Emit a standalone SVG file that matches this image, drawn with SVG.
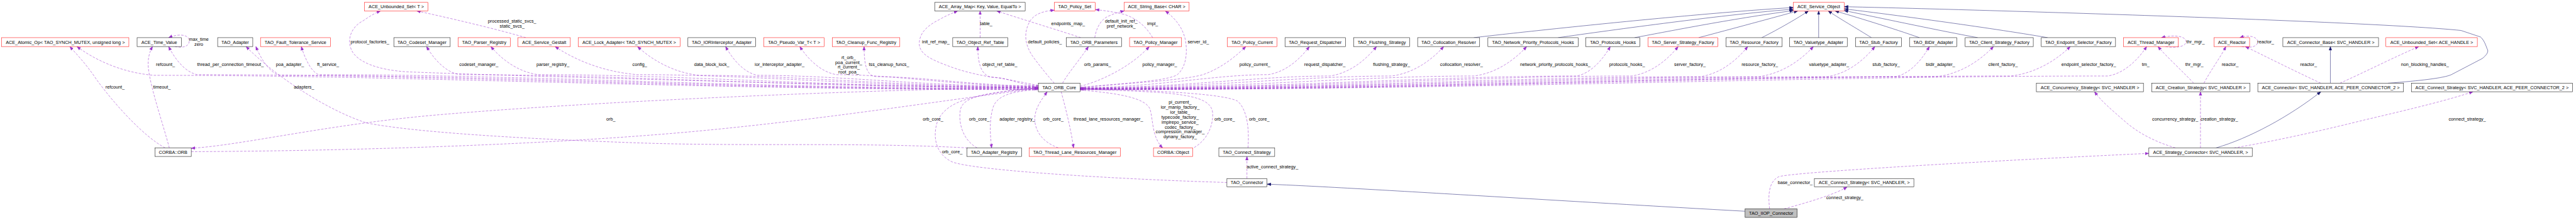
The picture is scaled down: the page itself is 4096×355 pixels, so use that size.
<svg xmlns="http://www.w3.org/2000/svg" width="4096" height="355" viewBox="0 0 4096 355">
<style>
text{font-family:"Liberation Sans",Arial,sans-serif;font-size:13.3px;fill:#000}
.n rect{fill:#fff;stroke:#000;stroke-width:1}
.n.r rect{stroke:#f00}
.n.g rect{fill:#bfbfbf}
.n text{text-anchor:middle}
.u{fill:none;stroke:#9a32cd;stroke-width:1;stroke-dasharray:7,4;marker-end:url(#ap)}
.i{fill:none;stroke:#191970;stroke-width:1;marker-end:url(#an)}
.lm{text-anchor:middle}
</style>
<defs>
<marker id="ap" markerUnits="userSpaceOnUse" markerWidth="12" markerHeight="10" viewBox="0 0 12 10" refX="11" refY="5" orient="auto"><path d="M0,1 L11,5 L0,9 z" fill="#9a32cd" stroke="#9a32cd" stroke-dasharray="none"/></marker>
<marker id="an" markerUnits="userSpaceOnUse" markerWidth="12" markerHeight="10" viewBox="0 0 12 10" refX="11" refY="5" orient="auto"><path d="M0,1 L11,5 L0,9 z" fill="#191970" stroke="#191970"/></marker>
</defs>
<rect x="0" y="0" width="4096" height="355" fill="#fff"/>
<g transform="scale(0.545)">
<g id="connectors">
<path class="u" d="M3029,262 C1997,262 1223,220 449,220 C348,211.6 269.4,169.6 224.5,136"/>
<path class="u" d="M3029,261 C2047,261 1311,218 575,218 C537.7,209.8 508.6,168.8 492,136"/>
<path class="u" d="M3029,260 C2144,260 1480,220 816,220 C784.7,211.6 760.4,169.6 746.5,136"/>
<path class="u" d="M3029,259 C2189,259 1560,218 930,218 C907,209.8 889.2,168.8 879,136"/>
<path class="u" d="M3029,258 C2300,245 1500,222 1191,210 C1100,205 1040,180 1025,145 C1010,110 1030,75 1059,61 C1075,50 1090,40 1110,32"/>
<path class="u" d="M3029,257 C2353,257 1847,218 1340,218 C1297,209.8 1263.6,168.8 1244.5,136"/>
<path class="u" d="M3029,256 C2445,256 2008,218 1570,218 C1508,209.8 1459.6,168.8 1432,136"/>
<path class="u" d="M3029,255 C2561,255 2211,218 1860,218 C1752,209.8 1667.7,168.8 1619.6,136"/>
<path class="u" d="M3029,254 C2633,254 2337,220 2040,220 C1959,211.6 1896,169.6 1860,136"/>
<path class="u" d="M3029,253 C2701,253 2456,220 2210,220 C2168,211.6 2135.6,169.6 2117,136"/>
<path class="u" d="M3029,252 C2793,252 2617,218 2440,218 C2392,209.8 2354.8,168.8 2333.5,136"/>
<path class="u" d="M3029,251 C2841,251 2701,224 2560,224 C2532,224 2521,200 2521,136"/>
<path class="u" d="M3029,250 C2977,250 2939,226 2900,226 C2870,226 2852.7,200 2852.7,136"/>
<path class="u" d="M3029,249 C2990,243 2950,232 2888,224.5 C2840,216 2800,206 2760,190 C2720,175 2680,158 2682,125 C2684,95 2705,75 2741,57 C2760,46 2775,40 2794,32"/>
<path class="u" d="M3076,243 C3060,225 3035,195 3012,163 C2990,130 2985,95 3006,60 C3020,40 3045,32 3076,30"/>
<path class="u" d="M3100,243 C3115,215 3150,175 3175.5,136"/>
<path class="u" d="M3151,252 C3210,238 3300,195 3353,136"/>
<path class="u" d="M3151,255 C3300,242 3410,235 3435,218 C3462,195 3465,150 3458,115 C3450,80 3430,55 3400,32"/>
<path class="u" d="M3151,256 C3300,242 3450,235 3510,218 C3560,200 3600,170 3634.7,136"/>
<path class="u" d="M3151,256 C3370.6,256 3535.3,218 3700,218 C3754,209.8 3796,168.8 3820,136"/>
<path class="u" d="M3151,257 C3442.6,257 3661.3,222 3880,222 C3941.2,213.4 3988.8,170.4 4016,136"/>
<path class="u" d="M3151,257 C3514.6,257 3787.3,222 4060,222 C4128.4,213.4 4181.6,170.4 4212,136"/>
<path class="u" d="M3151,258 C3610.6,258 3955.3,222 4300,222 C4369.3,213.4 4423.2,170.4 4454,136"/>
<path class="u" d="M3151,258 C3730.6,258 4165.3,222 4600,222 C4644.1,213.4 4678.4,170.4 4698,136"/>
<path class="u" d="M3151,259 C3794.6,259 4277.3,222 4760,222 C4821.2,213.4 4868.8,170.4 4896,136"/>
<path class="u" d="M3151,259 C3874.6,259 4417.3,224 4960,224 C5022.6,215.2 5071.2,171.2 5099,136"/>
<path class="u" d="M3151,260 C3942.6,260 4536.3,224 5130,224 C5202.3,215.2 5258.5,171.2 5290.6,136"/>
<path class="u" d="M3151,260 C4022.6,260 4676.3,224 5330,224 C5393,215.2 5442,171.2 5470,136"/>
<path class="u" d="M3151,261 C4102.6,261 4816.3,224 5530,224 C5574.6,215.2 5609.2,171.2 5629,136"/>
<path class="u" d="M3151,261 C4150.6,261 4900.3,224 5650,224 C5724.7,215.2 5782.8,171.2 5816,136"/>
<path class="u" d="M3151,262 C4237,262 5051.5,222 5866,222 C5944.3,213.4 6005.2,170.4 6040,136"/>
<path class="u" d="M3151,262 C4350.6,262 5250.3,222 6150,222 C6200.9,213.4 6240.4,170.4 6263,136"/>
<path class="u" d="M3029,255 C2500,262 1700,298 1260,337 C950,365 700,425 558,433"/>
<path class="u" d="M558,443 C1000,441 1500,425 1880,396 C2300,365 2700,300 3029,258"/>
<path class="u" d="M482,432 C420,400 330,300 280,230 C250,185 220,155 204,136"/>
<path class="u" d="M494,432 C475,360 440,260 433,200 C430,170 437,150 445,136"/>
<path class="u" d="M2823,432 C2500,415 2200,428 1880,418 C1500,405 1200,385 1069,359 C950,320 800,220 718,136"/>
<path class="u" d="M2851,432 C2810,410 2795,360 2802,320 C2810,285 2860,272 3029,256"/>
<path class="u" d="M3029,262 C2950,266 2905,280 2896,318 C2885,360 2890,400 2893,432"/>
<path class="u" d="M3088,432 C3040,415 3018,380 3019,345 C3020,315 3040,290 3055,268"/>
<path class="u" d="M3096,268 C3110,320 3125,380 3132,432"/>
<path class="u" d="M3484,431 C3520,410 3540,370 3538,330 C3535,290 3480,278 3380,270 C3300,265 3200,262 3151,260"/>
<path class="u" d="M3151,263 C3260,272 3340,285 3355,318 C3365,350 3360,400 3392,432"/>
<path class="u" d="M3641,432 C3645,380 3640,320 3610,295 C3570,275 3400,265 3151,258"/>
<path class="u" d="M3580,533 C3300,525 2850,500 2778,473 C2730,450 2720,400 2735,355 C2755,310 2800,285 2929,268 C2970,262 3000,259 3029,258"/>
<path class="u" d="M3638,521.5 L3638,457"/>
<path class="u" d="M5163,610 C5158,570 5160,530 5190,516 C5230,503 5800,470 6269,448"/>
<path class="u" d="M5205,610 C5280,590 5360,565 5389,546"/>
<path class="u" d="M6347,432 C6290,415 6240,390 6200,355 C6160,320 6130,295 6111,268"/>
<path class="u" d="M6420,432 L6420,268"/>
<path class="u" d="M6518,432 C6650,410 6800,375 6900,350 C7050,315 7150,290 7215,268"/>
<path class="u" d="M6400,243 C6375,215 6320,165 6296,136"/>
<path class="u" d="M6430,243 C6450,205 6480,165 6494,136"/>
<path class="u" d="M6771,243 C6690,205 6610,165 6551,136"/>
<path class="u" d="M6827,243 C6900,210 6990,165 7057,136"/>
<path class="u" d="M2859.6,110 L2859.6,32"/>
<path class="u" d="M3153,110 C3100,92 3000,62 2908,32"/>
<path class="u" d="M3194,110 C3198,85 3210,55 3239,45 C3255,38 3265,35 3280,32"/>
<path class="u" d="M3363,110 C3345,80 3320,55 3280,42 C3250,35 3225,31 3196,28"/>
<path class="u" d="M1534,110 C1450,85 1300,50 1216,32"/>
<path class="u" d="M510,136 C540,142 553,132 552,118 C550,100 520,98 492,110"/>
<path class="u" d="M6318,136 C6350,142 6378,135 6378,122 C6378,106 6345,100 6306,110"/>
<path class="u" d="M6540,136 C6570,142 6587,134 6587,122 C6587,108 6560,100 6535,110"/>
<path class="i" d="M4300,110 C4340,105 4900,42 5232,22"/>
<path class="i" d="M4546,110 C4700,88 5050,40 5232,27"/>
<path class="i" d="M4769,110 C4850,95 5050,55 5232,31"/>
<path class="i" d="M4956,110 C5050,85 5180,50 5245,32"/>
<path class="i" d="M5140,110 C5190,85 5250,50 5276,32"/>
<path class="i" d="M5306,110 L5306,32"/>
<path class="i" d="M5460,110 C5420,85 5360,50 5334,32"/>
<path class="i" d="M5600,110 C5530,85 5400,45 5354,32"/>
<path class="i" d="M5770,110 C5650,88 5450,45 5381,31"/>
<path class="i" d="M5974,110 C5800,80 5500,40 5381,26"/>
<path class="i" d="M6967,243 C7060,236 7130,228 7152,218 L7242,171 C7256,160 7262,150 7256,142 C7250,125 7245,115 7237,108 L7180,89 C6900,60 5600,24 5381,19.6"/>
<path class="i" d="M6799,243 L6799,136"/>
<path class="i" d="M6465,432 C6560,405 6680,340 6771,268"/>
<path class="i" d="M5091,617 C4600,590 3900,545 3697,538"/>
<text x="455" y="192.5">refcount_</text>
<text x="575" y="192.5">thread_per_connection_timeout_</text>
<text x="805" y="192.5">poa_adapter_</text>
<text x="925" y="192.5">ft_service_</text>
<text x="1340" y="192.5">codeset_manager_</text>
<text x="1565" y="192.5">parser_registry_</text>
<text x="1845" y="192.5">config_</text>
<text x="2025" y="192.5">data_block_lock_</text>
<text x="2202" y="192.5">ior_interceptor_adapter_</text>
<text x="2535" y="192.5">tss_cleanup_funcs_</text>
<text x="2866" y="192.5">object_ref_table_</text>
<text x="3163" y="192.5">orb_params_</text>
<text x="3333" y="192.5">policy_manager_</text>
<text x="3616" y="192.5">policy_current_</text>
<text x="3805" y="192.5">request_dispatcher_</text>
<text x="4006" y="192.5">flushing_strategy_</text>
<text x="4201.6" y="192.5">collocation_resolver_</text>
<text x="4435" y="192.5">network_priority_protocols_hooks_</text>
<text x="4695" y="192.5">protocols_hooks_</text>
<text x="4884.5" y="192.5">server_factory_</text>
<text x="5081" y="192.5">resource_factory_</text>
<text x="5278" y="192.5">valuetype_adapter_</text>
<text x="5463" y="192.5">stub_factory_</text>
<text x="5619" y="192.5">bidir_adapter_</text>
<text x="5801" y="192.5">client_factory_</text>
<text x="6014" y="192.5">endpoint_selector_factory_</text>
<text x="6249" y="192.5">tm_</text>
<text x="6375.5" y="192.5">thr_mgr_</text>
<text x="6482" y="192.5">reactor_</text>
<text x="6711" y="192.5">reactor_</text>
<text x="7005" y="192.5">non_blocking_handles_</text>
<text class="lm" x="2476"><tspan x="2476" y="172.3">rt_orb_</tspan><tspan x="2476" y="186.9">poa_current_</tspan><tspan x="2476" y="200.8">rt_current_</tspan><tspan x="2476" y="215.5">root_poa_</tspan></text>
<text x="1023" y="126">protocol_factories_</text>
<text x="2690" y="126">init_ref_map_</text>
<text x="2999" y="126">default_policies_</text>
<text x="3465" y="126">server_id_</text>
<text x="6379" y="126">thr_mgr_</text>
<text x="6586" y="126">reactor_</text>
<text x="2859" y="74">table_</text>
<text x="3067" y="74">endpoints_map_</text>
<text x="3347" y="74">impl_</text>
<text class="lm" x="1494"><tspan x="1494" y="66.9">processed_static_svcs_</tspan><tspan x="1494" y="81.5">static_svcs_</tspan></text>
<text class="lm" x="3271"><tspan x="3271" y="66.9">default_init_ref_</tspan><tspan x="3271" y="81.5">pref_network_</tspan></text>
<text class="lm" x="580"><tspan x="580" y="120">max_time</tspan><tspan x="580" y="134.5">zero</tspan></text>
<text x="308" y="258.5">refcount_</text>
<text x="447" y="258.5">timeout_</text>
<text x="857.5" y="258.5">adapters_</text>
<text x="1769" y="353">orb_</text>
<text x="2692" y="353">orb_core_</text>
<text x="2827" y="353">orb_core_</text>
<text x="2916" y="353">adapter_registry_</text>
<text x="3043" y="353">orb_core_</text>
<text x="3132" y="353">thread_lane_resources_manager_</text>
<text x="3543" y="353">orb_core_</text>
<text x="3644" y="353">orb_core_</text>
<text x="6279" y="353">concurrency_strategy_</text>
<text x="6420" y="353">creation_strategy_</text>
<text x="7144" y="353">connect_strategy_</text>
<text class="lm" x="3443"><tspan x="3443" y="302.9">pi_current_</tspan><tspan x="3443" y="317.5">ior_manip_factory_</tspan><tspan x="3443" y="332.3">ior_table_</tspan><tspan x="3443" y="346.1">typecode_factory_</tspan><tspan x="3443" y="360.8">implrepo_service_</tspan><tspan x="3443" y="375.5">codec_factory_</tspan><tspan x="3443" y="389.5">compression_manager_</tspan><tspan x="3443" y="404.1">dynany_factory_</tspan></text>
<text x="2748" y="447.5">orb_core_</text>
<text x="3637" y="491.5">active_connect_strategy_</text>
<text x="5186.5" y="537">base_connector_</text>
<text x="5328" y="581">connect_strategy_</text>
</g>
<g id="ace_atomic_op" class="n r"><rect x="5" y="110" width="371" height="26"/><text x="190.5" y="127.7">ACE_Atomic_Op&lt; TAO_SYNCH_MUTEX, unsigned long &gt;</text></g>
<g id="ace_time_value" class="n"><rect x="400" y="110" width="129" height="26"/><text x="464.5" y="127.7">ACE_Time_Value</text></g>
<g id="corba_orb" class="n"><rect x="452" y="432" width="106" height="25"/><text x="505" y="449.2">CORBA::ORB</text></g>
<g id="tao_adapter" class="n"><rect x="635" y="110" width="102.5" height="26"/><text x="686" y="127.7">TAO_Adapter</text></g>
<g id="tao_fault_tolerance_service" class="n r"><rect x="760" y="110" width="204" height="26"/><text x="862" y="127.7">TAO_Fault_Tolerance_Service</text></g>
<g id="ace_unbounded_set_t" class="n r"><rect x="1063" y="7" width="186" height="25"/><text x="1156" y="24.2">ACE_Unbounded_Set&lt; T &gt;</text></g>
<g id="tao_codeset_manager" class="n"><rect x="1149" y="110" width="164.5" height="26"/><text x="1231" y="127.7">TAO_Codeset_Manager</text></g>
<g id="tao_parser_registry" class="n r"><rect x="1337" y="110" width="151.6" height="26"/><text x="1412.8" y="127.7">TAO_Parser_Registry</text></g>
<g id="ace_service_gestalt" class="n r"><rect x="1511" y="110" width="153" height="26"/><text x="1587.5" y="127.7">ACE_Service_Gestalt</text></g>
<g id="ace_lock_adapter" class="n r"><rect x="1687" y="110" width="297" height="26"/><text x="1835.5" y="127.7">ACE_Lock_Adapter&lt; TAO_SYNCH_MUTEX &gt;</text></g>
<g id="tao_iorinterceptor_adapter" class="n"><rect x="2007" y="110" width="197.5" height="26"/><text x="2105.8" y="127.7">TAO_IORInterceptor_Adapter</text></g>
<g id="tao_pseudo_var_t" class="n r"><rect x="2228.6" y="110" width="176" height="26"/><text x="2316.6" y="127.7">TAO_Pseudo_Var_T&lt; T &gt;</text></g>
<g id="tao_cleanup_func_registry" class="n r"><rect x="2428.6" y="110" width="196.7" height="26"/><text x="2527" y="127.7">TAO_Cleanup_Func_Registry</text></g>
<g id="ace_array_map" class="n"><rect x="2727" y="7" width="264" height="25"/><text x="2859" y="24.2">ACE_Array_Map&lt; Key, Value, EqualTo &gt;</text></g>
<g id="tao_object_ref_table" class="n"><rect x="2779.6" y="110" width="160.8" height="26"/><text x="2860" y="127.7">TAO_Object_Ref_Table</text></g>
<g id="tao_policy_set" class="n r"><rect x="3076" y="7" width="119" height="25"/><text x="3135.5" y="24.2">TAO_Policy_Set</text></g>
<g id="tao_orb_parameters" class="n"><rect x="3111" y="110" width="161" height="26"/><text x="3191.5" y="127.7">TAO_ORB_Parameters</text></g>
<g id="tao_orb_core" class="n"><rect x="3029.4" y="243" width="122" height="25"/><text x="3090.4" y="260.2">TAO_ORB_Core</text></g>
<g id="tao_adapter_registry" class="n"><rect x="2821" y="432" width="159.4" height="25"/><text x="2900.7" y="449.2">TAO_Adapter_Registry</text></g>
<g id="tao_thread_lane_resources_manager" class="n r"><rect x="3003" y="432" width="265.6" height="25"/><text x="3135.8" y="449.2">TAO_Thread_Lane_Resources_Manager</text></g>
<g id="ace_string_base" class="n r"><rect x="3279.6" y="7" width="189.8" height="25"/><text x="3374.5" y="24.2">ACE_String_Base&lt; CHAR &gt;</text></g>
<g id="tao_policy_manager" class="n r"><rect x="3295.5" y="110" width="151.8" height="26"/><text x="3371.4" y="127.7">TAO_Policy_Manager</text></g>
<g id="tao_policy_current" class="n r"><rect x="3581" y="110" width="144.3" height="26"/><text x="3653" y="127.7">TAO_Policy_Current</text></g>
<g id="corba_object" class="n r"><rect x="3365.3" y="432" width="114.7" height="25"/><text x="3422.6" y="449.2">CORBA::Object</text></g>
<g id="tao_connect_strategy" class="n"><rect x="3556" y="432" width="163" height="25"/><text x="3637.5" y="449.2">TAO_Connect_Strategy</text></g>
<g id="tao_connector" class="n"><rect x="3579.6" y="521.5" width="116.7" height="24.5"/><text x="3638" y="538.4">TAO_Connector</text></g>
<g id="tao_request_dispatcher" class="n"><rect x="3749" y="110" width="176.3" height="26"/><text x="3837" y="127.7">TAO_Request_Dispatcher</text></g>
<g id="tao_flushing_strategy" class="n"><rect x="3949.4" y="110" width="163.6" height="26"/><text x="4031.2" y="127.7">TAO_Flushing_Strategy</text></g>
<g id="tao_collocation_resolver" class="n"><rect x="4136" y="110" width="181" height="26"/><text x="4226.5" y="127.7">TAO_Collocation_Resolver</text></g>
<g id="tao_network_priority_protocols_hooks" class="n"><rect x="4341" y="110" width="263.5" height="26"/><text x="4472.8" y="127.7">TAO_Network_Priority_Protocols_Hooks</text></g>
<g id="tao_protocols_hooks" class="n"><rect x="4627" y="110" width="157.5" height="26"/><text x="4705.8" y="127.7">TAO_Protocols_Hooks</text></g>
<g id="tao_server_strategy_factory" class="n r"><rect x="4808" y="110" width="204" height="26"/><text x="4910" y="127.7">TAO_Server_Strategy_Factory</text></g>
<g id="ace_service_object" class="n r"><rect x="5232" y="7" width="148.4" height="25"/><text x="5306.2" y="24.2">ACE_Service_Object</text></g>
<g id="tao_resource_factory" class="n"><rect x="5035.5" y="110" width="164.1" height="26"/><text x="5117.5" y="127.7">TAO_Resource_Factory</text></g>
<g id="tao_valuetype_adapter" class="n"><rect x="5221" y="110" width="168.4" height="26"/><text x="5305.2" y="127.7">TAO_Valuetype_Adapter</text></g>
<g id="tao_stub_factory" class="n"><rect x="5413.5" y="110" width="134.5" height="26"/><text x="5480.8" y="127.7">TAO_Stub_Factory</text></g>
<g id="tao_bidir_adapter" class="n"><rect x="5571" y="110" width="138.4" height="26"/><text x="5640.2" y="127.7">TAO_BiDir_Adapter</text></g>
<g id="tao_client_strategy_factory" class="n"><rect x="5733.5" y="110" width="198.7" height="26"/><text x="5832.8" y="127.7">TAO_Client_Strategy_Factory</text></g>
<g id="tao_endpoint_selector_factory" class="n"><rect x="5955.5" y="110" width="216.7" height="26"/><text x="6063.8" y="127.7">TAO_Endpoint_Selector_Factory</text></g>
<g id="ace_thread_manager" class="n r"><rect x="6195.5" y="110" width="160" height="26"/><text x="6275.5" y="127.7">ACE_Thread_Manager</text></g>
<g id="ace_reactor" class="n r"><rect x="6459.6" y="110" width="103.7" height="26"/><text x="6511.5" y="127.7">ACE_Reactor</text></g>
<g id="ace_connector_base" class="n"><rect x="6660.4" y="110" width="279.1" height="26"/><text x="6800" y="127.7">ACE_Connector_Base&lt; SVC_HANDLER &gt;</text></g>
<g id="ace_unbounded_set_handle" class="n r"><rect x="6961" y="110" width="266.7" height="26"/><text x="7094.4" y="127.7">ACE_Unbounded_Set&lt; ACE_HANDLE &gt;</text></g>
<g id="ace_concurrency_strategy" class="n"><rect x="5941.2" y="243" width="312.3" height="25"/><text x="6097.4" y="260.2">ACE_Concurrency_Strategy&lt; SVC_HANDLER &gt;</text></g>
<g id="ace_creation_strategy" class="n"><rect x="6277.6" y="243" width="286.4" height="25"/><text x="6420.8" y="260.2">ACE_Creation_Strategy&lt; SVC_HANDLER &gt;</text></g>
<g id="ace_connector" class="n"><rect x="6587.3" y="243" width="425.1" height="25"/><text x="6799.9" y="260.2">ACE_Connector&lt; SVC_HANDLER, ACE_PEER_CONNECTOR_2 &gt;</text></g>
<g id="ace_connect_strategy_2" class="n"><rect x="7035.3" y="243" width="470.1" height="25"/><text x="7270.4" y="260.2">ACE_Connect_Strategy&lt; SVC_HANDLER, ACE_PEER_CONNECTOR_2 &gt;</text></g>
<g id="ace_strategy_connector" class="n"><rect x="6269.4" y="432" width="301.6" height="25"/><text x="6420.2" y="449.2">ACE_Strategy_Connector&lt; SVC_HANDLER, &gt;</text></g>
<g id="ace_connect_strategy" class="n"><rect x="5293.5" y="521.5" width="290.2" height="24.5"/><text x="5438.6" y="538.4">ACE_Connect_Strategy&lt; SVC_HANDLER, &gt;</text></g>
<g id="tao_iiop_connector" class="n g"><rect x="5091.4" y="610" width="151.9" height="25"/><text x="5167.4" y="627.2">TAO_IIOP_Connector</text></g>
</g>
</svg>
